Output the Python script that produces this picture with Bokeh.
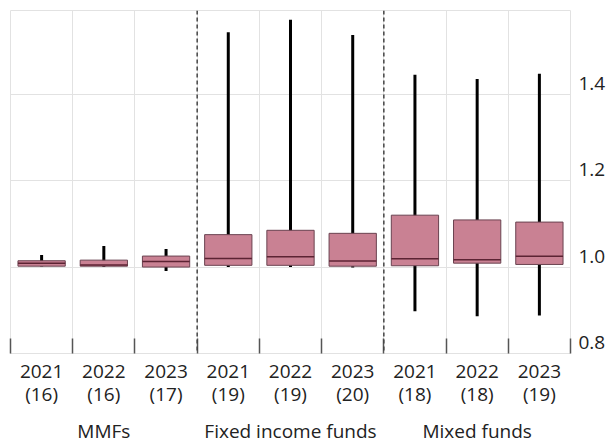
from bokeh.plotting import figure
from bokeh.models import FixedTicker, LinearAxis, Span, Range1d, ColumnDataSource
from bokeh.embed import file_html
from bokeh.resources import INLINE

# ---- data ----
groups = ["MMFs", "Fixed income funds", "Mixed funds"]
years = ["2021", "2022", "2023", "2021", "2022", "2023", "2021", "2022", "2023"]
counts = [16, 16, 17, 19, 19, 20, 18, 18, 19]
lower = [1.001, 1.000, 0.991, 1.000, 1.000, 0.999, 0.898, 0.886, 0.888]
q1 = [1.002, 1.002, 1.000, 1.004, 1.004, 1.002, 1.003, 1.009, 1.006]
median = [1.0086, 1.005, 1.013, 1.020, 1.024, 1.014, 1.019, 1.017, 1.025]
q3 = [1.0146, 1.016, 1.0254, 1.075, 1.085, 1.078, 1.120, 1.109, 1.104]
upper = [1.028, 1.0486, 1.042, 1.543, 1.572, 1.537, 1.445, 1.435, 1.447]
y_ticks = [0.8, 1.0, 1.2, 1.4]
y_tick_labels = ["0.8", "1.0", "1.2", "1.4"]

n = len(years)
centers = [i + 0.5 for i in range(n)]
boundaries = list(range(n + 1))
count_labels = [f"({c})" for c in counts]
group_size = 3
group_centers = [g * group_size + group_size / 2 for g in range(len(groups))]

Y0, Y1 = 0.8, 1.5935
LBL_SHIFT = 0.0255   # value labels sit just above their gridlines
BOX_W = 0.76
FONT = "Open Sans"
FS = "19px"
TXT = "#222222"
GRID = "#e2e2e2"

src = ColumnDataSource(dict(x=centers, lower=lower, q1=q1, median=median,
                            q3=q3, upper=upper,
                            left=[c - BOX_W / 2 for c in centers],
                            right=[c + BOX_W / 2 for c in centers]))

p = figure(width=612, height=446, x_range=Range1d(0, n), y_range=Range1d(Y0, Y1),
           output_backend="svg", toolbar_location=None,
           x_axis_location=None, y_axis_location=None,
           min_border_left=10, min_border_right=42, min_border_top=10, min_border_bottom=93)
p.outline_line_color = GRID
p.background_fill_color = "white"
p.border_fill_color = "white"
p.extra_y_ranges = {"lbl": Range1d(Y0 - LBL_SHIFT, Y1 - LBL_SHIFT)}

# grids
p.xgrid.ticker = FixedTicker(ticks=boundaries, minor_ticks=[])
p.ygrid.ticker = FixedTicker(ticks=y_ticks, minor_ticks=[])
p.grid.grid_line_color = GRID
p.grid.grid_line_width = 1

# whiskers
p.segment(x0="x", y0="lower", x1="x", y1="upper", source=src,
          line_color="black", line_width=3)
# boxes
p.quad(left="left", right="right", bottom="q1", top="q3", source=src,
       fill_color="#c98193", line_color="#6a4350", line_width=1)
# medians
p.segment(x0="left", y0="median", x1="right", y1="median", source=src,
          line_color="#5c2333", line_width=1.5)

# group separators
for g in range(1, len(groups)):
    p.add_layout(Span(location=g * group_size, dimension="height",
                      line_color="#444444", line_dash="4 3", line_width=1.5))


def text_axis(ticks, labels, standoff, minor=None, **kw):
    opts = dict(major_tick_line_color=None, major_tick_out=0, major_tick_in=0,
                minor_tick_out=0, minor_tick_in=0, minor_tick_line_color=None,
                axis_line_color=None,
                major_label_text_font=FONT, major_label_text_font_size=FS,
                major_label_text_color=TXT, major_label_standoff=standoff)
    opts.update(kw)
    return LinearAxis(ticker=FixedTicker(ticks=ticks, minor_ticks=minor or []),
                      major_label_overrides={t: l for t, l in zip(ticks, labels)},
                      **opts)


# year axis, with tick marks at category boundaries (drawn as minor ticks)
p.add_layout(text_axis(centers, years, 11, minor=boundaries,
                       minor_tick_in=15, minor_tick_out=0,
                       minor_tick_line_color="#555555", minor_tick_line_width=1.5),
             "below")
p.add_layout(text_axis(centers, count_labels, 0), "below")
p.add_layout(text_axis(group_centers, groups, 8), "below")

# right-hand value axis
p.add_layout(text_axis(y_ticks, y_tick_labels, 8, y_range_name="lbl"), "right")

open("out.html", "w").write(file_html(p, INLINE))
